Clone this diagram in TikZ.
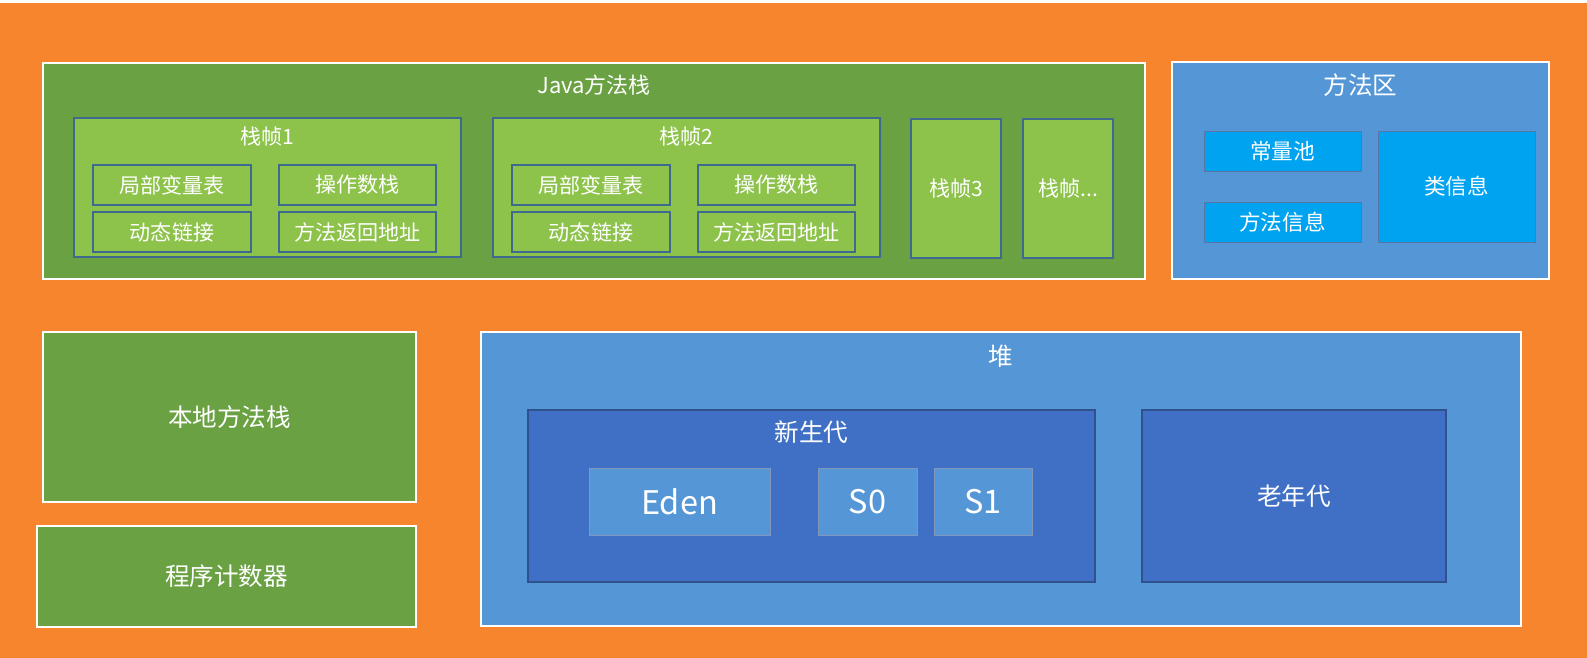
\documentclass[tikz,border=0pt]{standalone}
\usepackage{fontspec}
\setmainfont{Noto Sans CJK SC}
\usepackage{xcolor}
\usepackage{tikz}
\usetikzlibrary{positioning,calc}

\definecolor{bgorange}{HTML}{F6852E}
\definecolor{stackgreen}{HTML}{6AA143}
\definecolor{framegreen}{HTML}{8DC24B}
\definecolor{areablue}{HTML}{5597D6}
\definecolor{genblue}{HTML}{3F70C5}
\definecolor{infocyan}{HTML}{00A3EF}
\definecolor{lineblue}{HTML}{3D6A8E}
\definecolor{genline}{HTML}{2F528F}

\begin{document}
\begin{tikzpicture}[
    x=0.02cm, y=-0.02cm,
    sz/.style 2 args={minimum width=#1*0.02cm, minimum height=#2*0.02cm},
    area/.style={draw=white, line width=0.9pt, inner sep=0pt, text=white},
    framebox/.style={draw=lineblue, line width=0.6pt, fill=framegreen, inner sep=0pt, text=white, font=\fontsize{12}{14}\selectfont},
    infobox/.style={draw=genline!80, line width=0.5pt, fill=infocyan, inner sep=0pt, text=white, font=\fontsize{12.3}{14}\selectfont},
    genbox/.style={draw=genline, line width=0.6pt, fill=genblue, inner sep=0pt, text=white, font=\fontsize{14}{16}\selectfont},
    spacebox/.style={draw=genline!60, line width=0.4pt, fill=areablue, inner sep=0pt, text=white, font=\fontsize{18.5}{20}\selectfont},
    title/.style={text=white, inner sep=0pt}
]

% Background
\useasboundingbox (0,0) rectangle (1587,658);
\fill[white] (0,0) rectangle (1587,658);
\fill[bgorange] (0,3) rectangle (1587,658);

% Java stack
\node[area, fill=stackgreen, sz={1102}{216}] (java) at (594,171) {};
\node[title, font=\fontsize{12.5}{14}\selectfont] (javat) at ($(java.north)+(0,23)$) {Java方法栈};

\foreach \n/\x in {1/74, 2/493} {
    \node[framebox, sz={387}{139}] (f\n) at (\x+193.5,187.5) {};
    \node[title, font=\fontsize{12}{14}\selectfont] (f\n t) at ($(f\n.north)+(0,19)$) {栈帧\n};
    \node[framebox, sz={158}{40}] (f\n a) at (\x+98,185) {局部变量表};
    \node[framebox, sz={157}{40}] (f\n b) at (\x+283.5,185) {操作数栈};
    \node[framebox, sz={158}{40}] (f\n c) at (\x+98,232) {动态链接};
    \node[framebox, sz={157}{40}] (f\n d) at (\x+283.5,232) {方法返回地址};
}
\node[framebox, sz={90}{139}] (f3) at (956,188.5) {栈帧3};
\node[framebox, sz={90}{139}] (f4) at (1068,188.5) {栈帧...};

% Method area
\node[area, fill=areablue, sz={377}{217}] (ma) at (1360.5,170.5) {};
\node[title, font=\fontsize{14}{16}\selectfont] (mat) at ($(ma.north)+(0,24)$) {方法区};
\node[infobox, sz={157}{40}] (pool) at (1282.5,151) {常量池};
\node[infobox, sz={157}{40}] (minfo) at (1282.5,222) {方法信息};
\node[infobox, sz={157}{111}] (cinfo) at (1456.5,186.5) {类信息};

% Native stack and PC
\node[area, fill=stackgreen, font=\fontsize{14}{16}\selectfont, sz={373}{170}] (native) at (229.5,417) {本地方法栈};
\node[area, fill=stackgreen, font=\fontsize{14}{16}\selectfont, sz={379}{101}] (pc) at (226.5,576.5) {程序计数器};

% Heap
\node[area, fill=areablue, sz={1040}{294}] (heap) at (1001,479) {};
\node[title, font=\fontsize{14}{16}\selectfont] (heapt) at ($(heap.north)+(0,25)$) {堆};
\node[genbox, sz={567}{172}] (young) at (811.5,496) {};
\node[title, font=\fontsize{14}{16}\selectfont] (youngt) at ($(young.north)+(0,23)$) {新生代};
\node[spacebox, sz={181}{67}] (eden) at (679.5,501.5) {Eden};
\node[spacebox, sz={99}{67}] (s0) at (867.5,501.5) {S0};
\node[spacebox, sz={98}{67}] (s1) at (983,501.5) {S1};
\node[genbox, sz={304}{172}] (old) at (1294,496) {老年代};

\end{tikzpicture}
\end{document}
